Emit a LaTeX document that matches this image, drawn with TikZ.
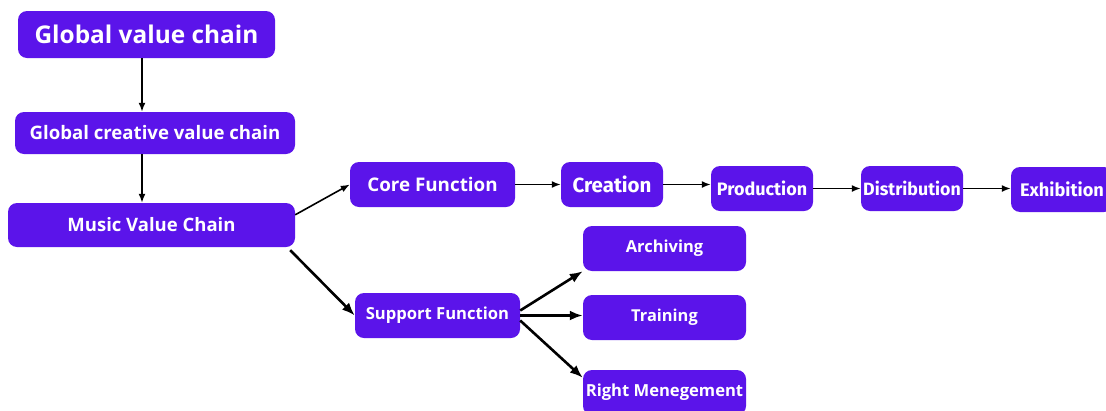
\documentclass[tikz,border=0pt]{standalone}
\usepackage{fontspec}
\setmainfont{Open Sans}
\newfontfamily\narrowfont{Fira Sans}
\usetikzlibrary{positioning, arrows.meta}

\definecolor{chainpurple}{RGB}{91,20,234}

\tikzset{
	chainbox/.style = {fill = chainpurple, text = white, rounded corners = 9pt,
		inner sep = 0pt, font = \bfseries},
	link/.style = {-{Latex[length = 9pt, width = 7pt]}, black, line width = 1.6pt},
	biglink/.style = {-{Latex[length = 13pt, width = 10pt]}, black, line width = 2.6pt}
}

\begin{document}
\begin{tikzpicture}[x = 1pt, y = -1pt]
	%	canvas
	\useasboundingbox (0, 0) rectangle (1106, 410);
	
	%	left column
	\node[chainbox, minimum width = 257, minimum height = 47, font = \bfseries\fontsize{24.4}{28}\selectfont] (gvc) at (146.5, 34.5) {Global value chain};
	\node[chainbox, minimum width = 280, minimum height = 42, font = \bfseries\fontsize{18.6}{22}\selectfont] (gcvc) at (155, 133) {Global creative value chain};
	\node[chainbox, minimum width = 287, minimum height = 44, font = \bfseries\fontsize{18.5}{22}\selectfont] (mvc) at (151.5, 225) {Music Value Chain};
	
	%	core functions
	\node[chainbox, minimum width = 165, minimum height = 45, font = \bfseries\fontsize{18.8}{22}\selectfont] (core) at (432.5, 184.5) {Core Function};
	\node[chainbox, minimum width = 102, minimum height = 45, font = \narrowfont\bfseries\fontsize{20.5}{24}\selectfont] (creation) at (612, 184.5) {Creation};
	\node[chainbox, minimum width = 102, minimum height = 45, font = \narrowfont\bfseries\fontsize{18}{21}\selectfont] (production) at (762, 188.5) {Production};
	\node[chainbox, minimum width = 102, minimum height = 45, font = \narrowfont\bfseries\fontsize{17.8}{21}\selectfont] (distribution) at (912, 188.5) {Distribution};
	\node[chainbox, minimum width = 102, minimum height = 45, font = \narrowfont\bfseries\fontsize{18.2}{21}\selectfont] (exhibition) at (1062, 189.5) {Exhibition};
	
	%	support functions
	\node[chainbox, minimum width = 165, minimum height = 45, font = \bfseries\fontsize{16.6}{20}\selectfont] (support) at (437.5, 315.5) {Support Function};
	\node[chainbox, minimum width = 163, minimum height = 45, font = \bfseries\fontsize{16.5}{20}\selectfont] (archiving) at (664.5, 248.5) {Archiving};
	\node[chainbox, minimum width = 163, minimum height = 45, font = \bfseries\fontsize{16.4}{20}\selectfont] (training) at (664.5, 317.5) {Training};
	\node[chainbox, minimum width = 163, minimum height = 45, font = \bfseries\fontsize{16.6}{20}\selectfont] (rights) at (664.5, 392.5) {Right Menegement};
	
	%	down the left column
	\coordinate (axis) at (142, 0);
	\draw[link] (gvc.south -| axis) -- (gcvc.north -| axis);
	\draw[link] (gcvc.south -| axis) -- (mvc.north -| axis);
	
	%	split
	\draw[link] ([yshift = -12]mvc.north east) -- (core.west);
	\draw[biglink] ([xshift = -5, yshift = -3]mvc.south east) -- (support.west);
	
	%	core chain
	\draw[link] (core) -- (creation);
	\draw[link] (creation) -- (creation -| production.west);
	\draw[link] (production) -- (distribution);
	\draw[link] (distribution) -- (distribution -| exhibition.west);
	
	%	support branches
	\draw[biglink] ([yshift = 5]support.east) -- (archiving.south west);
	\draw[biglink] (support.east) -- (support.east -| training.west);
	\draw[biglink] ([yshift = -5]support.east) -- ([yshift = -8]rights.north west);
\end{tikzpicture}
\end{document}
